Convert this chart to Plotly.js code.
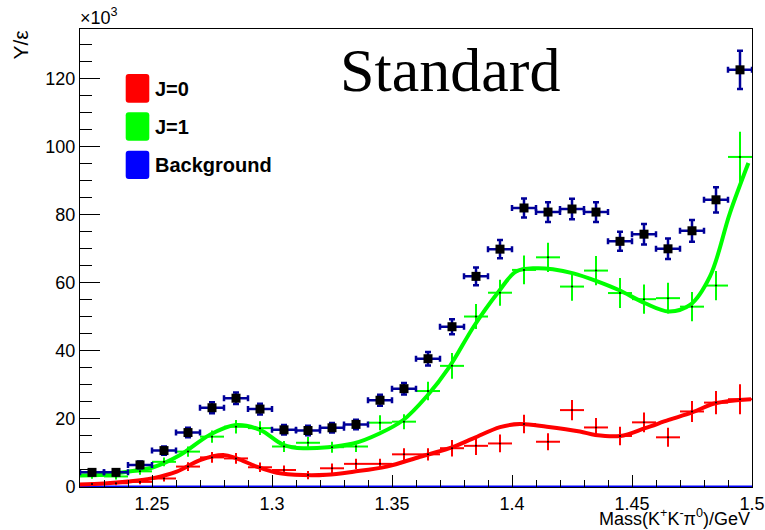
<!DOCTYPE html>
<html>
<head>
<meta charset="utf-8">
<script src="https://cdn.plot.ly/plotly-3.0.1.min.js"></script>
<style>html,body{margin:0;padding:0;background:#fff;}#chart{width:765px;height:530px;}</style>
</head>
<body>
<div id="chart"></div>
<script>
// ---- data (values in units of 10^3) ----
const binCenters = [1.225,1.235,1.245,1.255,1.265,1.275,1.285,1.295,1.305,1.315,1.325,1.335,1.345,1.355,1.365,1.375,1.385,1.395,1.405,1.415,1.425,1.435,1.445,1.455,1.465,1.475,1.485,1.495];
const totalY   = [4.3,4.3,6.5,10.7,16.0,23.3,26.1,22.9,16.8,16.6,17.4,18.4,25.5,28.9,37.7,47.1,61.9,69.9,82.0,80.8,81.7,80.8,72.2,74.3,70.0,75.3,84.4,122.6];
const totalErr = [0.8,0.8,1.0,1.2,1.4,1.6,1.7,1.6,1.4,1.4,1.4,1.4,1.6,1.7,2.0,2.2,2.6,2.7,2.8,2.9,3.0,2.9,2.8,3.0,3.0,3.2,3.7,5.6];
const j1Y   = [3.3,3.1,4.6,7.4,10.4,14.8,17.7,17.3,11.9,13.0,11.7,11.9,18.9,19.2,28.2,35.6,50.1,57.1,63.8,67.5,58.9,63.6,57.0,55.2,55.5,53.0,59.2,97.0];
const j1Err = [0.9,0.9,1.0,1.3,1.5,1.8,2.0,2.0,1.6,1.7,1.6,1.6,2.2,2.2,2.7,3.8,3.7,3.8,4.2,4.3,4.2,4.3,4.4,4.3,4.5,4.3,4.3,7.4];
const j0Y   = [0.9,1.1,1.5,2.5,6.0,8.7,8.4,5.8,5.0,3.5,5.5,6.8,6.8,9.6,9.6,11.4,12.1,12.8,18.5,13.3,22.6,17.5,15.0,19.0,14.6,22.2,24.8,25.8];
const j0Err = [0.6,0.6,0.7,0.9,1.3,1.6,1.6,1.4,1.3,1.2,1.4,1.5,1.5,1.8,1.8,2.4,2.7,2.6,2.7,2.5,3.0,2.8,2.7,2.9,2.8,3.1,3.4,4.4];
const binHalfWidth = 0.005;

// fitted curves
const fitJ1X = [1.22,1.23,1.24,1.2505,1.2617,1.274,1.2849,1.295,1.3047,1.313,1.3339,1.345,1.3547,1.3644,1.374,1.384,1.394,1.4017,1.41,1.417,1.4256,1.435,1.4445,1.4555,1.4653,1.4742,1.4825,1.4908,1.4985];
const fitJ1Y = [3.4,3.6,4.5,5.8,9.4,15.3,18.2,16.8,12.4,11.4,12.8,15.8,19.7,26.6,35.4,47.1,57.0,63.3,64.3,64.0,62.8,60.6,57.9,54.0,51.6,53.5,61.9,80.5,95.2];
const fitJ0X = [1.22,1.23,1.24,1.2505,1.2603,1.27,1.2797,1.2853,1.2936,1.302,1.313,1.3228,1.3339,1.3478,1.3617,1.374,1.3839,1.395,1.4033,1.4145,1.4283,1.4347,1.4451,1.4555,1.4653,1.475,1.4847,1.4996];
const fitJ0Y = [0.7,1.0,1.6,2.6,4.5,7.9,9.4,8.4,6.0,4.2,3.5,3.6,4.5,6.0,8.9,11.4,14.3,17.6,18.5,17.7,16.3,15.3,15.0,17.3,19.7,21.9,24.6,25.8];
const bgX = [1.22,1.29,1.36,1.43,1.5];
const bgY = [0,0,0,0,0];

const xTickVals = [1.25,1.3,1.35,1.4,1.45,1.5];
const xTickText = ["1.25","1.3","1.35","1.4","1.45","1.5"];
const legendNames = ["J=0","J=1","Background"];
const legendColors = ["#ff0000","#00ff00","#0000ff"];

// ---- layout helpers (pixel -> paper) ----
const L=80,R=752,T=29,B=487;
const px = x => (x-L)/(R-L);
const py = y => (B-y)/(B-T);
function rr(x0,y0,x1,y1,r){
  return `M${px(x0+r)},${py(y0)} L${px(x1-r)},${py(y0)} Q${px(x1)},${py(y0)} ${px(x1)},${py(y0+r)} `+
         `L${px(x1)},${py(y1-r)} Q${px(x1)},${py(y1)} ${px(x1-r)},${py(y1)} `+
         `L${px(x0+r)},${py(y1)} Q${px(x0)},${py(y1)} ${px(x0)},${py(y1-r)} `+
         `L${px(x0)},${py(y0+r)} Q${px(x0)},${py(y0)} ${px(x0+r)},${py(y0)} Z`;
}

const sans = "Liberation Sans, Arial, Helvetica, sans-serif";

const traces = [
  {x:bgX, y:bgY, mode:'lines', line:{color:'#0000ff', width:3}, hoverinfo:'skip'},
  {x:fitJ0X, y:fitJ0Y, mode:'lines', line:{color:'#ff0000', width:4, shape:'spline', smoothing:1}},
  {x:fitJ1X, y:fitJ1Y, mode:'lines', line:{color:'#00ff00', width:4, shape:'spline', smoothing:1}},
  {x:binCenters, y:j0Y, mode:'markers', marker:{color:'#000', size:2},
   error_x:{type:'constant', value:binHalfWidth, color:'#ff0000', thickness:2, width:0},
   error_y:{type:'data', array:j0Err, color:'#ff0000', thickness:2, width:0}},
  {x:binCenters, y:j1Y, mode:'markers', marker:{color:'#000', size:2},
   error_x:{type:'constant', value:binHalfWidth, color:'#00ff00', thickness:2, width:0},
   error_y:{type:'data', array:j1Err, color:'#00ff00', thickness:2, width:0}},
  {x:binCenters, y:totalY, mode:'markers', marker:{color:'#000', size:9, symbol:'square'},
   error_x:{type:'constant', value:binHalfWidth, color:'#000099', thickness:2.5, width:3},
   error_y:{type:'data', array:totalErr, color:'#000099', thickness:2.5, width:3}}
];

const boxes = [[74,102.7],[112.3,140.7],[150.7,179]];
const shapes = boxes.map((b,i)=>({type:'path', xref:'paper', yref:'paper',
  path: rr(125.7,b[0],149.3,b[1],3), fillcolor:legendColors[i], line:{width:0}}));

const annotations = boxes.map((b,i)=>({xref:'paper', yref:'paper', x:px(153), y:py((b[0]+b[1])/2+0.5),
  xanchor:'left', yanchor:'middle', showarrow:false, text:'<b>'+legendNames[i]+'</b>',
  font:{family:sans, size:20, color:'#000'}}));
annotations.push(
  {xref:'paper', yref:'paper', x:px(450), y:py(70), xanchor:'center', yanchor:'middle', showarrow:false,
   text:'Standard', font:{family:'Liberation Serif, Times New Roman, serif', size:62, color:'#000'}},
  {xref:'paper', yref:'paper', x:px(78), y:py(17), xanchor:'left', yanchor:'middle', showarrow:false,
   text:'×10<sup>3</sup>', font:{family:sans, size:18, color:'#000'}},
  {xref:'paper', yref:'paper', x:px(20.5), y:py(45), xanchor:'center', yanchor:'middle', showarrow:false,
   textangle:-90, text:'Y/ε', font:{family:sans, size:21, color:'#000'}},
  {xref:'paper', yref:'paper', x:1, y:py(517), xanchor:'right', yanchor:'middle', showarrow:false,
   text:'Mass(K<sup>+</sup>K<sup>-</sup>π<sup>0</sup>)/GeV', font:{family:sans, size:18, color:'#000'}}
);

const layout = {
  width:765, height:530,
  margin:{l:L, r:765-R, t:T, b:530-B, pad:0},
  paper_bgcolor:'#fff', plot_bgcolor:'#fff',
  showlegend:false,
  font:{family:sans, size:18, color:'#000'},
  xaxis:{range:[1.22,1.5], tickvals:xTickVals, ticktext:xTickText, ticks:'inside', ticklen:12, tickwidth:1, tickcolor:'#000',
    minor:{dtick:0.01, tick0:1.22, ticks:'inside', ticklen:7, tickwidth:1, tickcolor:'#000', showgrid:false},
    showgrid:false, zeroline:false, showline:true, mirror:true, linecolor:'#000', linewidth:1,
    tickfont:{family:sans, size:18, color:'#000'}},
  yaxis:{range:[0,134.6], dtick:20, tick0:0, ticks:'inside', ticklen:20, tickwidth:1, tickcolor:'#000',
    minor:{dtick:5, ticks:'inside', ticklen:12, tickwidth:1, tickcolor:'#000', showgrid:false},
    showgrid:false, zeroline:false, showline:true, mirror:true, linecolor:'#000', linewidth:1,
    tickfont:{family:sans, size:18, color:'#000'}},
  shapes:shapes,
  annotations:annotations
};

Plotly.newPlot('chart', traces, layout, {staticPlot:true, displayModeBar:false});
</script>
</body>
</html>
